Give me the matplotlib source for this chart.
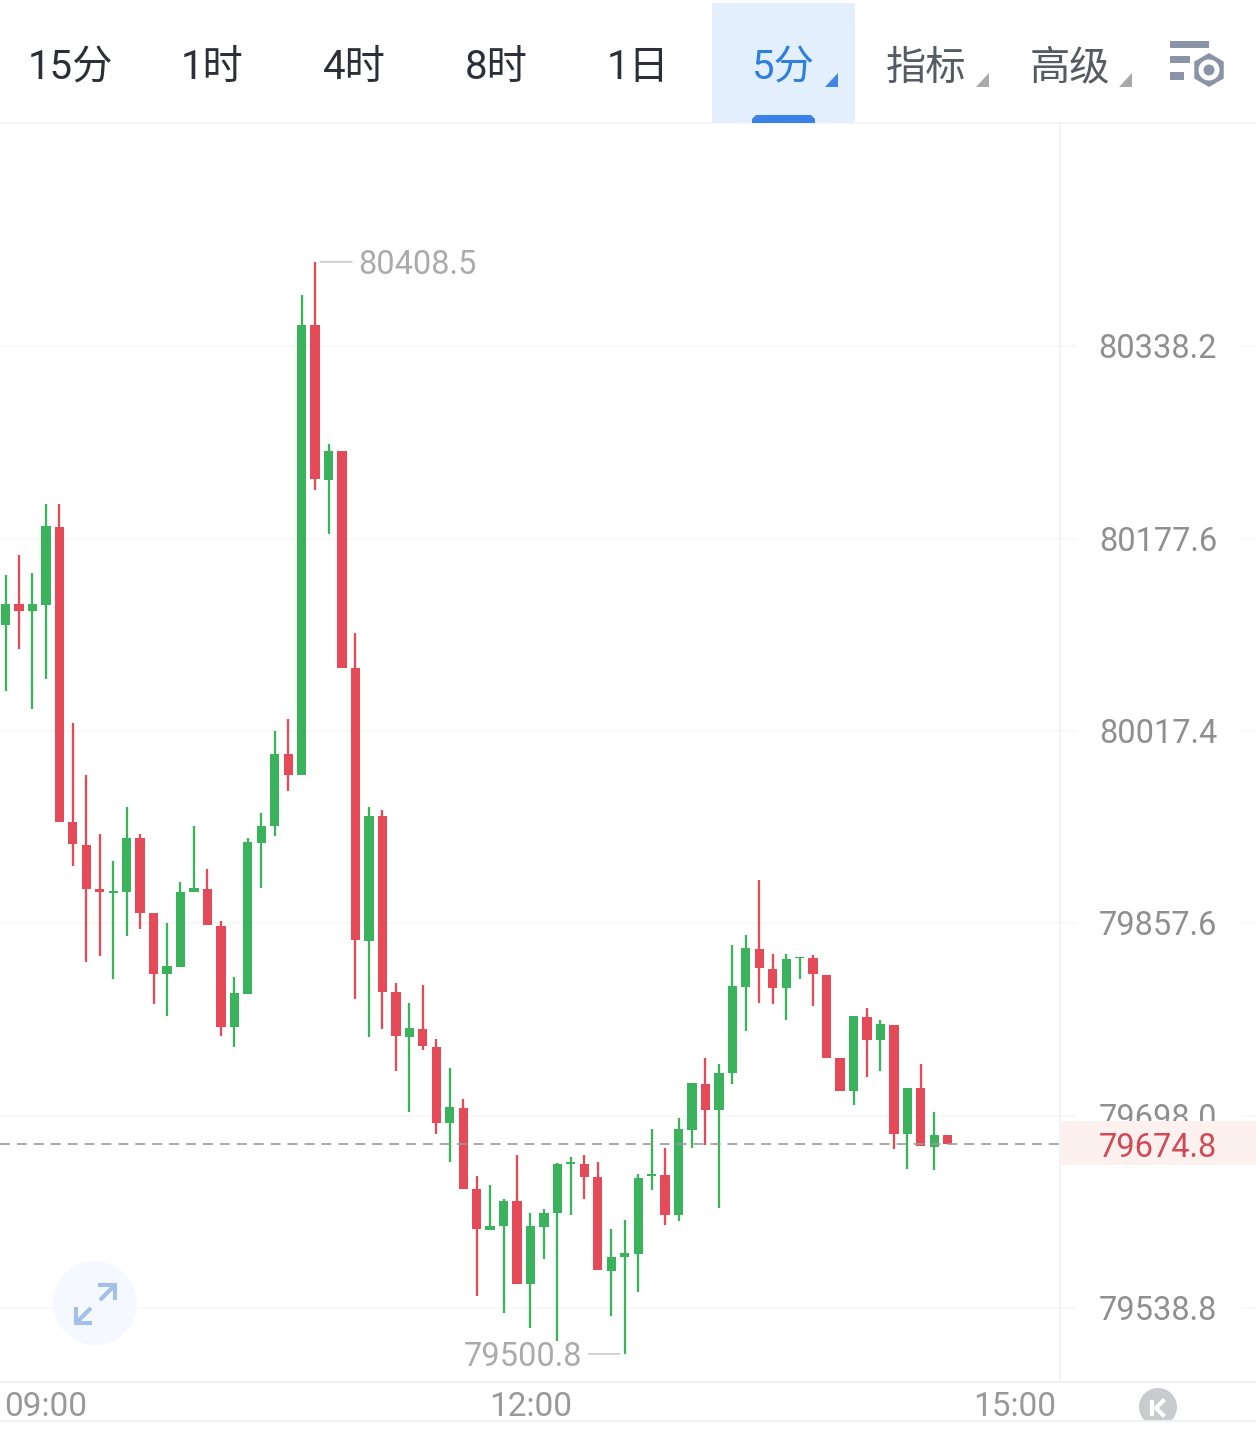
import matplotlib
matplotlib.use("Agg")
import matplotlib.pyplot as plt
from matplotlib.patches import Rectangle, Circle, Polygon, RegularPolygon
from matplotlib.ticker import NullLocator, NullFormatter

# ---------------- data ----------------
tabs = ["15分", "1时", "4时", "8时", "1日", "5分", "指标", "高级"]
price_ticks = [80338.2, 80177.6, 80017.4, 79857.6, 79698.0, 79538.8]
time_positions = [3, 39, 75]
time_labels = ["09:00", "12:00", "15:00"]
last_price = 79674.8
max_price = 80408.5
min_price = 79500.8

opens = [80105.7, 80122.9, 80117.1, 80122.1, 80187.3, 79941.8, 79922.7, 79886.4, 79882.8, 79883.1,
         79928.5, 79865.7, 79815.1, 79821.5, 79883.4, 79886.4, 79855.4, 79771.4, 79799.1, 79924.0,
         79938.0, 79998.3, 79980.8, 80355.6, 80226.8, 80250.3, 80069.8, 79843.2, 79946.4, 79800.2,
         79763.5, 79770.1, 79755.0, 79691.7, 79704.6, 79637.0, 79603.6, 79606.9, 79627.3, 79558.4,
         79605.7, 79617.0, 79657.6, 79657.9, 79646.8, 79569.7, 79580.7, 79583.3, 79648.2, 79648.7,
         79615.5, 79686.4, 79724.1, 79702.5, 79733.2, 79804.9, 79836.2, 79819.6, 79803.6, 79828.5,
         79828.8, 79814.9, 79745.7, 79718.2, 79779.7, 79760.6, 79773.1, 79682.5, 79720.5, 79672.0,
         79681.7]
closes = [80123.3, 80117.1, 80122.7, 80187.8, 79942.0, 79923.1, 79886.4, 79883.1, 79884.4, 79928.5,
          79866.2, 79815.5, 79821.8, 79883.6, 79886.9, 79855.8, 79771.8, 79799.3, 79924.7, 79938.5,
          79998.6, 79981.0, 80355.9, 80227.1, 80250.3, 80069.9, 79843.7, 79946.4, 79800.8, 79764.0,
          79770.6, 79755.3, 79692.2, 79705.0, 79637.3, 79603.9, 79606.9, 79627.7, 79558.7, 79606.4,
          79617.3, 79657.9, 79659.2, 79647.0, 79570.3, 79580.9, 79584.0, 79646.4, 79649.3, 79616.0,
          79686.7, 79724.7, 79702.7, 79733.5, 79805.3, 79836.8, 79820.2, 79804.1, 79828.2, 79829.6,
          79815.5, 79745.9, 79718.5, 79780.6, 79760.9, 79773.7, 79683.1, 79720.7, 79672.5, 79681.9,
          79674.8]
highs = [80147.2, 80163.7, 80148.7, 80206.0, 80206.0, 80024.1, 79981.0, 79931.8, 79909.4, 79954.3,
         79931.8, 79865.7, 79857.9, 79891.9, 79938.5, 79902.7, 79859.1, 79813.0, 79928.5, 79949.5,
         80017.4, 80027.4, 80380.6, 80408.5, 80256.7, 80250.3, 80098.8, 79954.3, 79951.8, 79808.0,
         79791.4, 79806.3, 79761.6, 79737.4, 79711.9, 79647.9, 79640.6, 79629.3, 79665.1, 79617.7,
         79620.6, 79658.4, 79663.7, 79665.2, 79659.2, 79604.4, 79611.2, 79649.3, 79686.7, 79670.9,
         79695.8, 79724.7, 79745.4, 79740.7, 79839.3, 79847.9, 79893.6, 79831.9, 79831.9, 79829.6,
         79831.3, 79814.9, 79745.7, 79780.6, 79787.5, 79777.2, 79773.1, 79720.7, 79740.4, 79701.1,
         79681.7]
lows = [80050.8, 80085.5, 80035.4, 80060.2, 79942.0, 79905.2, 79825.8, 79830.6, 79811.3, 79846.7,
        79852.5, 79790.9, 79780.2, 79821.5, 79883.4, 79855.8, 79764.2, 79754.8, 79799.1, 79886.9,
        79929.8, 79967.5, 79980.8, 80217.7, 80181.5, 80069.9, 79795.0, 79763.1, 79770.1, 79734.9,
        79701.0, 79752.6, 79682.7, 79659.2, 79637.3, 79549.1, 79603.6, 79534.6, 79558.7, 79522.4,
        79579.1, 79511.7, 79616.0, 79629.3, 79570.3, 79532.4, 79500.8, 79552.4, 79636.8, 79607.1,
        79611.0, 79670.9, 79673.6, 79621.3, 79724.1, 79768.4, 79791.1, 79790.3, 79777.2, 79811.6,
        79789.1, 79745.9, 79718.5, 79706.9, 79729.6, 79734.9, 79670.3, 79654.2, 79672.5, 79652.8,
        79674.8]

# ---------------- style ----------------
W, H = 1256, 1444
GREEN, RED = "#3bb35c", "#e44a57"
GRID = "#f5f6f7"
BORDER = "#f0f1f2"
num_font = ["Roboto", "DejaVu Sans"]
tab_font = ["Roboto", "Noto Sans CJK SC", "DejaVu Sans"]
px = 0.72  # points per pixel at dpi 100

fig = plt.figure(figsize=(W / 100, H / 100), dpi=100, facecolor="white")

top, bottom, split = 123, 1382, 1060
ax = fig.add_axes([0, 1 - bottom / H, split / W, (bottom - top) / H])
axr = fig.add_axes([split / W, 1 - bottom / H, (W - split) / W, (bottom - top) / H], sharey=ax)
ax.set_yscale("log")
ax.set_ylim(79477.6, 80524.7)
ax.set_xlim(-0.409, 78.34)
axr.set_xlim(split, W)
ax.yaxis.set_major_locator(NullLocator())
ax.yaxis.set_minor_locator(NullLocator())
ax.yaxis.set_major_formatter(NullFormatter())
ax.yaxis.set_minor_formatter(NullFormatter())
for a in (ax, axr):
    for s in a.spines.values():
        s.set_visible(False)
    a.patch.set_alpha(0)

# grid
ax.hlines(price_ticks, -0.409, 78.34, color=GRID, lw=1.1, zorder=1)
axr.hlines(price_ticks, split, 1076, color=GRID, lw=1.1, zorder=1)
axr.hlines(price_ticks, 1241, W, color=GRID, lw=1.1, zorder=1)

# candles
x = list(range(len(opens)))
cols = [RED if c < o else GREEN for o, c in zip(opens, closes)]
ax.vlines(x, lows, highs, colors=cols, lw=2.3 * px, zorder=3)
ax.bar(x, [abs(c - o) for o, c in zip(opens, closes)],
       bottom=[min(o, c) for o, c in zip(opens, closes)],
       width=0.69, color=cols, linewidth=0, zorder=4)

# last price line
ax.axhline(last_price, color="#9a9a9a", alpha=0.85, lw=1.4,
           linestyle=(0, (5.1, 3.6)), zorder=5)

# time axis
ax.set_xticks(time_positions)
ax.set_xticklabels(time_labels, fontsize=24, color="#999999", family=num_font)
ax.tick_params(axis="x", length=0, pad=6.5)
axr.tick_params(left=False, labelleft=False, bottom=False, labelbottom=False)

# price axis labels
for v in price_ticks:
    axr.annotate(f"{v:.1f}", xy=(1158, v), xytext=(0, -3 * px), textcoords="offset points",
                 ha="center", va="center", fontsize=23.5,
                 color="#8f8f8f", family=num_font, zorder=2)
axr.axhspan(last_price - 17.5, last_price + 18.8, color="#fdf1f0", lw=0, zorder=3)
axr.annotate(f"{last_price:.1f}", xy=(1158, last_price), xytext=(0, -4.3 * px),
             textcoords="offset points", ha="center", va="center",
             fontsize=23.5, color="#d04a55", family=num_font, zorder=4)

# extreme labels
mi = highs.index(max_price)
ax.annotate("", xy=(mi, max_price), xytext=(37 * px, 0), textcoords="offset points",
            arrowprops=dict(arrowstyle="-", color="#c4c4c4", lw=1.1, shrinkA=0, shrinkB=5 * px))
ax.annotate(f"{max_price:.1f}", xy=(mi, max_price), xytext=(43 * px, -3.5 * px),
            textcoords="offset points", va="center", ha="left", fontsize=23.5,
            color="#ababab", family=num_font, zorder=6)
lo = lows.index(min_price)
ax.annotate("", xy=(lo, min_price), xytext=(-36 * px, 0), textcoords="offset points",
            arrowprops=dict(arrowstyle="-", color="#c4c4c4", lw=1.1, shrinkA=0, shrinkB=5 * px))
ax.annotate(f"{min_price:.1f}", xy=(lo, min_price), xytext=(-42 * px, -3.5 * px),
            textcoords="offset points", va="center", ha="right", fontsize=23.5,
            color="#ababab", family=num_font, zorder=6)

# ---------------- overlay chrome in figure pixels ----------------
ov = fig.add_axes([0, 0, 1, 1], zorder=10)
ov.set_xlim(0, W)
ov.set_ylim(H, 0)
ov.axis("off")
ov.patch.set_alpha(0)

ov.plot([0, W], [123, 123], color=BORDER, lw=1.1)
ov.plot([split, split], [123, bottom], color=BORDER, lw=1.1)
ov.plot([0, W], [bottom, bottom], color=BORDER, lw=1.4)

ov.add_patch(Rectangle((712, 3), 143, 120, color="#e3effc", lw=0, zorder=1))
ov.add_patch(Polygon([(752, 123), (752, 119), (756, 115), (811, 115), (815, 119), (815, 123)],
                     color="#3b82e8", lw=0, zorder=2))

tab_x = [70, 212, 354, 496, 638, 783, 926, 1070]
tab_c = ["#2c2f36"] * 5 + ["#2f7fe0", "#555a63", "#555a63"]
for t, tx, c in zip(tabs, tab_x, tab_c):
    ov.text(tx, 68, t, ha="center", va="center", fontsize=29, color=c, family=tab_font, zorder=3)

for xr, c in [(838, "#3f84e6"), (989, "#a9a9a9"), (1132, "#a9a9a9")]:
    ov.add_patch(Polygon([(xr, 73), (xr, 87), (xr - 13, 87)], color=c, lw=0, zorder=3))

# settings icon
ICON = "#8a94a6"
ov.add_patch(Rectangle((1170, 41), 39, 7, color=ICON, lw=0))
ov.add_patch(Rectangle((1170, 56), 20, 7, color=ICON, lw=0))
ov.add_patch(Rectangle((1170, 72), 14, 8, color=ICON, lw=0))
ov.add_patch(RegularPolygon((1209, 70), 6, radius=17, color=ICON, lw=0))
ov.add_patch(Circle((1209, 70), 10.5, color="white", lw=0))
ov.add_patch(Circle((1209, 70), 5.5, color=ICON, lw=0))

# expand button
ov.add_patch(Circle((95, 1303), 42, color="#f4f8fe", alpha=0.9, lw=0))
ARW = "#a3c0e8"
arrow_kw = dict(color=ARW, lw=3, solid_capstyle="butt", solid_joinstyle="miter")
ov.plot([98, 115, 115], [1285, 1285, 1300], **arrow_kw)
ov.plot([100, 115], [1300, 1285], **arrow_kw)
ov.plot([76, 76, 92], [1307, 1323, 1323], **arrow_kw)
ov.plot([91, 76], [1308, 1323], **arrow_kw)

# K button and bottom line
ov.add_patch(Circle((1158, 1407), 19, color="#c9cbce", lw=0, zorder=2))
ov.plot([1152, 1152], [1402, 1414], color="white", lw=3, zorder=3)
ov.plot([1163, 1156, 1163], [1401, 1408, 1415], color="white", lw=3, zorder=3)
ov.add_patch(Rectangle((0, 1421), W, 23, color="white", lw=0, zorder=4))
ov.plot([0, W], [1421, 1421], color=BORDER, lw=1.4, zorder=5)

fig.savefig("out.png", dpi=100, facecolor="white")
